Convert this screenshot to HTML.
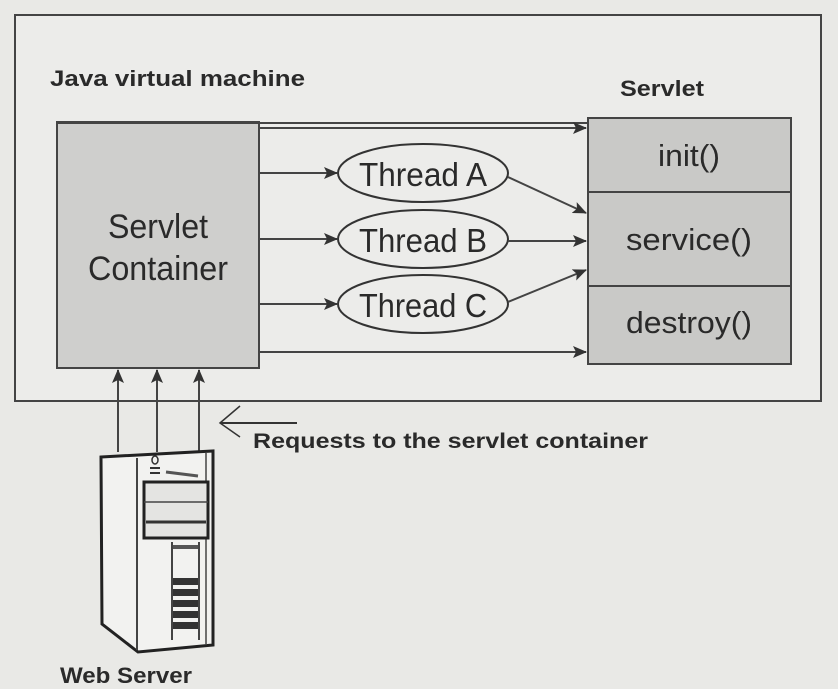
<!DOCTYPE html>
<html><head><style>
html,body{margin:0;padding:0;background:#e9e9e6;}
svg{display:block;}
text{font-family:"Liberation Sans",sans-serif;fill:#2a2a2a;}
</style></head><body>
<svg width="838" height="689" viewBox="0 0 838 689" xmlns="http://www.w3.org/2000/svg">
<defs>
<marker id="ah" markerWidth="14" markerHeight="12" refX="13" refY="6" orient="auto" markerUnits="userSpaceOnUse">
<path d="M0,0 L14,6 L0,12 L3,6 Z" fill="#333"/>
</marker>
</defs>
<rect x="0" y="0" width="838" height="689" fill="#e9e9e6"/>
<rect x="15" y="15" width="806" height="386" fill="#ececea" stroke="#444" stroke-width="2"/>
<text x="50" y="86" font-size="22" font-weight="bold" textLength="255" lengthAdjust="spacingAndGlyphs">Java virtual machine</text>
<text x="620" y="96" font-size="22" font-weight="bold" textLength="84" lengthAdjust="spacingAndGlyphs">Servlet</text>
<!-- container -->
<rect x="57" y="122" width="202" height="246" fill="#cfcfcd" stroke="#444" stroke-width="2"/>
<text x="158" y="238" font-size="34" text-anchor="middle" textLength="100" lengthAdjust="spacingAndGlyphs">Servlet</text>
<text x="158" y="280" font-size="34" text-anchor="middle" textLength="140" lengthAdjust="spacingAndGlyphs">Container</text>
<!-- servlet -->
<rect x="588" y="118" width="203" height="246" fill="#c9c9c7" stroke="#444" stroke-width="2"/>
<line x1="588" y1="192" x2="791" y2="192" stroke="#444" stroke-width="2"/>
<line x1="588" y1="286" x2="791" y2="286" stroke="#444" stroke-width="2"/>
<text x="689" y="166" font-size="31" text-anchor="middle" textLength="62" lengthAdjust="spacingAndGlyphs">init()</text>
<text x="689" y="250" font-size="31" text-anchor="middle" textLength="126" lengthAdjust="spacingAndGlyphs">service()</text>
<text x="689" y="333" font-size="31" text-anchor="middle" textLength="126" lengthAdjust="spacingAndGlyphs">destroy()</text>
<!-- top arrows -->
<line x1="57" y1="123" x2="588" y2="123" stroke="#444" stroke-width="2"/>
<line x1="259" y1="128" x2="586" y2="128" stroke="#444" stroke-width="2" marker-end="url(#ah)"/>
<line x1="259" y1="352" x2="586" y2="352" stroke="#444" stroke-width="2" marker-end="url(#ah)"/>
<!-- threads -->
<line x1="259" y1="173" x2="337" y2="173" stroke="#444" stroke-width="2" marker-end="url(#ah)"/>
<line x1="259" y1="239" x2="337" y2="239" stroke="#444" stroke-width="2" marker-end="url(#ah)"/>
<line x1="259" y1="304" x2="337" y2="304" stroke="#444" stroke-width="2" marker-end="url(#ah)"/>
<ellipse cx="423" cy="173" rx="85" ry="29" fill="#ececea" stroke="#333" stroke-width="2"/>
<ellipse cx="423" cy="239" rx="85" ry="29" fill="#ececea" stroke="#333" stroke-width="2"/>
<ellipse cx="423" cy="304" rx="85" ry="29" fill="#ececea" stroke="#333" stroke-width="2"/>
<text x="423" y="186" font-size="33" text-anchor="middle" textLength="128" lengthAdjust="spacingAndGlyphs">Thread A</text>
<text x="423" y="252" font-size="33" text-anchor="middle" textLength="128" lengthAdjust="spacingAndGlyphs">Thread B</text>
<text x="423" y="317" font-size="33" text-anchor="middle" textLength="128" lengthAdjust="spacingAndGlyphs">Thread C</text>
<line x1="508" y1="177" x2="586" y2="213" stroke="#444" stroke-width="2" marker-end="url(#ah)"/>
<line x1="508" y1="241" x2="586" y2="241" stroke="#444" stroke-width="2" marker-end="url(#ah)"/>
<line x1="508" y1="302" x2="586" y2="270" stroke="#444" stroke-width="2" marker-end="url(#ah)"/>
<!-- up arrows -->
<line x1="118" y1="452" x2="118" y2="370" stroke="#444" stroke-width="2" marker-end="url(#ah)"/>
<line x1="157" y1="452" x2="157" y2="370" stroke="#444" stroke-width="2" marker-end="url(#ah)"/>
<line x1="199" y1="452" x2="199" y2="370" stroke="#444" stroke-width="2" marker-end="url(#ah)"/>
<!-- requests label -->
<line x1="297" y1="423" x2="220" y2="423" stroke="#333" stroke-width="2"/>
<path d="M240,406 L220,423 L240,437" fill="none" stroke="#333" stroke-width="1.5"/>
<text x="253" y="448" font-size="21" font-weight="bold" textLength="395" lengthAdjust="spacingAndGlyphs">Requests to the servlet container</text>
<!-- server -->
<path d="M101,457 L213,451 L213,645 L138,652 L102,624 Z" fill="#f2f2f0" stroke="#222" stroke-width="3"/>
<line x1="137" y1="458" x2="137" y2="650" stroke="#444" stroke-width="2"/>
<line x1="206" y1="453" x2="206" y2="645" stroke="#444" stroke-width="1.5"/>
<rect x="144" y="482" width="64" height="56" fill="#e4e4e2" stroke="#222" stroke-width="3"/>
<line x1="144" y1="502" x2="208" y2="502" stroke="#444" stroke-width="1.5"/>
<line x1="146" y1="522" x2="206" y2="522" stroke="#333" stroke-width="3"/>
<ellipse cx="155" cy="460" rx="3" ry="4" fill="none" stroke="#333" stroke-width="1.5"/>
<line x1="150" y1="468" x2="160" y2="468" stroke="#333" stroke-width="2"/>
<line x1="150" y1="473" x2="160" y2="473" stroke="#333" stroke-width="2"/>
<line x1="166" y1="472" x2="198" y2="476" stroke="#555" stroke-width="3"/>
<line x1="172" y1="542" x2="172" y2="640" stroke="#444" stroke-width="2"/>
<line x1="199" y1="542" x2="199" y2="640" stroke="#444" stroke-width="2"/>
<rect x="173" y="545" width="25" height="4" fill="#555"/>
<rect x="173" y="578" width="25" height="7" fill="#333"/>
<rect x="173" y="589" width="25" height="7" fill="#333"/>
<rect x="173" y="600" width="25" height="7" fill="#333"/>
<rect x="173" y="611" width="25" height="7" fill="#333"/>
<rect x="173" y="622" width="25" height="7" fill="#333"/>
<text x="60" y="683" font-size="22" font-weight="bold" textLength="132" lengthAdjust="spacingAndGlyphs">Web Server</text>
</svg>
</body></html>
